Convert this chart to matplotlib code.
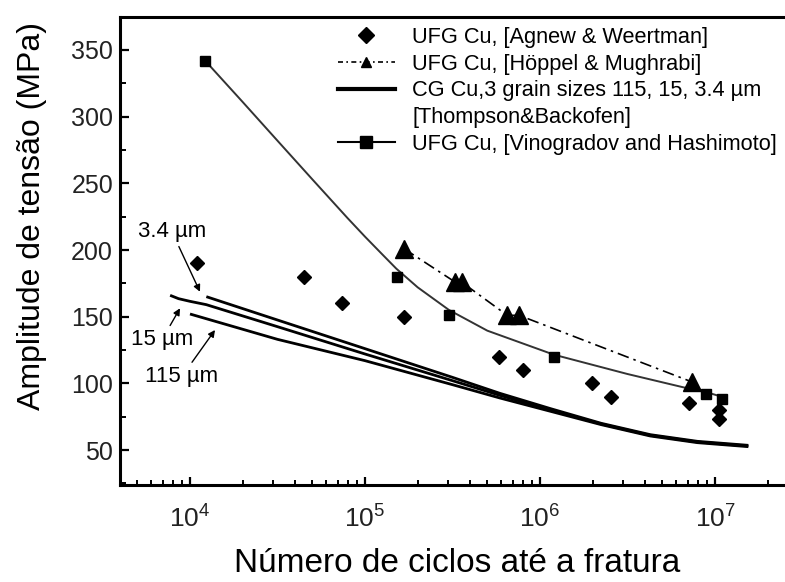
import matplotlib
matplotlib.use("Agg")
import matplotlib.pyplot as plt
from matplotlib.lines import Line2D
from matplotlib.ticker import MultipleLocator, LogLocator, LogFormatterSciNotation, NullFormatter

plt.rcParams['font.family'] = ['Liberation Sans', 'DejaVu Sans']
plt.rcParams['mathtext.default'] = 'regular'

# ---- data ----
agnew_N = [1.09e4, 4.5e4, 7.4e4, 1.67e5, 5.8e5, 8.0e5, 1.97e6, 2.55e6, 7.1e6, 1.05e7, 1.05e7]
agnew_S = [190, 180, 160, 150, 120, 110, 100, 90, 85, 80, 73]

hoppel_N = [1.67e5, 3.27e5, 3.56e5, 6.5e5, 7.6e5, 7.4e6]
hoppel_S = [201, 176, 176, 151, 151, 101]

vino_N = [1.22e4, 1.52e5, 3.03e5, 1.2e6, 8.85e6, 1.09e7]
vino_S = [342, 180, 151, 120, 92, 88]

vino_fit_N = [1.22e4, 2.0e4, 3.16e4, 5.0e4, 7.94e4, 1.0e5, 1.26e5, 1.51e5, 2.0e5,
              3.02e5, 5.0e5, 1.2e6, 3.16e6, 6.6e6, 8.85e6, 1.09e7]
vino_fit_S = [342, 311, 282, 253, 224, 210, 196.5, 186, 172,
              155, 139.5, 121.5, 107, 97, 93.5, 90]

tb34_N = [1.24e4, 3.16e4, 1.0e5, 3.16e5, 5.9e5, 1.15e6, 2.24e6, 4.27e6, 7.94e6, 1.55e7]
tb34_S = [165, 147.5, 126, 104.5, 92.5, 81, 70, 61.5, 56.5, 53.5]

tb15_N = [7.7e3, 8.6e3, 1.0e4, 1.24e4, 3.16e4, 1.0e5, 3.16e5, 5.9e5, 1.15e6, 2.24e6, 4.27e6, 7.94e6, 1.55e7]
tb15_S = [166, 163.5, 161.5, 159, 142.5, 122, 102, 91, 80, 69.5, 61, 56, 53]

tb115_N = [1.0e4, 3.16e4, 1.0e5, 3.16e5, 5.9e5, 1.15e6, 2.24e6, 4.27e6, 7.94e6, 1.55e7]
tb115_S = [152, 133, 117, 99, 89, 79, 69, 60.5, 55.5, 52.5]

legend_labels = ["UFG Cu, [Agnew & Weertman]",
                 "UFG Cu, [Höppel & Mughrabi]",
                 "CG Cu,3 grain sizes 115, 15, 3.4 µm",
                 "[Thompson&Backofen]",
                 "UFG Cu, [Vinogradov and Hashimoto]"]

x_ticks = [1e4, 1e5, 1e6, 1e7]
y_ticks = [50, 100, 150, 200, 250, 300, 350]

# ---- figure ----
AX_W = 665.0
fig = plt.figure(figsize=(7.85, 5.82), dpi=100)
ax = fig.add_axes([120/785, (582-485)/582, AX_W/785, 468/582])
ax.set_xscale('log')
ax.set_xlim(10**3.6, 10**7.4)
ax.set_ylim(23.75, 374.75)

# Thompson & Backofen lines
for N, S in [(tb34_N, tb34_S), (tb15_N, tb15_S), (tb115_N, tb115_S)]:
    ax.plot(N, S, color='black', lw=2.0, solid_capstyle='butt')

# Vinogradov fit line and squares
ax.plot(vino_fit_N, vino_fit_S, color='#333333', lw=1.4)
ax.plot(vino_N, vino_S, ls='none', marker='s', ms=7.2, color='black')

# Höppel dash-dot with triangles
ax.plot(hoppel_N, hoppel_S, color='black', lw=1.2, dashes=(7, 3, 1.5, 3))
ax.plot(hoppel_N, hoppel_S, ls='none', marker='^', ms=13, color='black')

# Agnew diamonds
ax.plot(agnew_N, agnew_S, ls='none', marker='D', ms=7.4, color='black')

# annotations
arrow = dict(arrowstyle='-|>', color='black', lw=1.0, mutation_scale=10, shrinkA=1, shrinkB=0)
ax.annotate('3.4 µm', xy=(1.14e4, 168.7), xytext=(7.9e3, 213.5), fontsize=16,
            ha='center', va='center', arrowprops=arrow)
ax.annotate('15 µm', xy=(8.77e3, 156.3), xytext=(6.9e3, 132.5), fontsize=16,
            ha='center', va='center', arrowprops=arrow)
ax.annotate('115 µm', xy=(1.39e4, 140), xytext=(8.97e3, 105), fontsize=16,
            ha='center', va='center', arrowprops=arrow)

# axes styling
for side in ['left', 'bottom', 'top']:
    ax.spines[side].set_linewidth(2.2)
ax.spines['right'].set_visible(False)

ax.set_yticks(y_ticks)
ax.yaxis.set_minor_locator(MultipleLocator(25))
ax.set_xticks(x_ticks)
ax.xaxis.set_minor_locator(LogLocator(base=10, subs=range(2, 10)))
ax.xaxis.set_minor_formatter(NullFormatter())
ax.xaxis.set_major_formatter(LogFormatterSciNotation())

ax.tick_params(axis='both', which='both', direction='in', top=False, right=False)
ax.tick_params(axis='y', which='major', length=6.5, width=1.6, labelsize=18, pad=5, labelcolor='#222222')
ax.tick_params(axis='y', which='minor', length=4, width=1.4)
ax.tick_params(axis='x', which='major', length=6, width=1.6, labelsize=19, pad=15, labelcolor='#222222')
ax.tick_params(axis='x', which='minor', length=3.5, width=1.4)

ax.set_xlabel('Número de ciclos até a fratura', fontsize=24)
ax.xaxis.set_label_coords((457-120)/AX_W, (485-563)/468)
ax.xaxis.label.set_va('center')
ax.set_ylabel('Amplitude de tensão (MPa)', fontsize=23)
ax.yaxis.set_label_coords((32-120)/AX_W, (485-216)/468)
ax.yaxis.label.set_va('center')
ax.yaxis.label.set_ha('center')

# legend
handles = [
    Line2D([], [], ls='none', marker='D', ms=8.5, color='black'),
    Line2D([], [], color='black', lw=1.2, dashes=(3, 2, 1, 2), marker='^', ms=7),
    Line2D([], [], color='black', lw=3),
    Line2D([], [], ls='none', marker=None),
    Line2D([], [], color='black', lw=1.5, marker='s', ms=9),
]
ax.legend(handles, legend_labels, loc='upper left', bbox_to_anchor=(338/785, 1 - 27/582),
          bbox_transform=fig.transFigure, frameon=False, borderpad=0, borderaxespad=0,
          fontsize=15.7, handlelength=2.6, handletextpad=0.8, labelspacing=0.26,
          numpoints=1)

fig.savefig('out.png', dpi=100)
